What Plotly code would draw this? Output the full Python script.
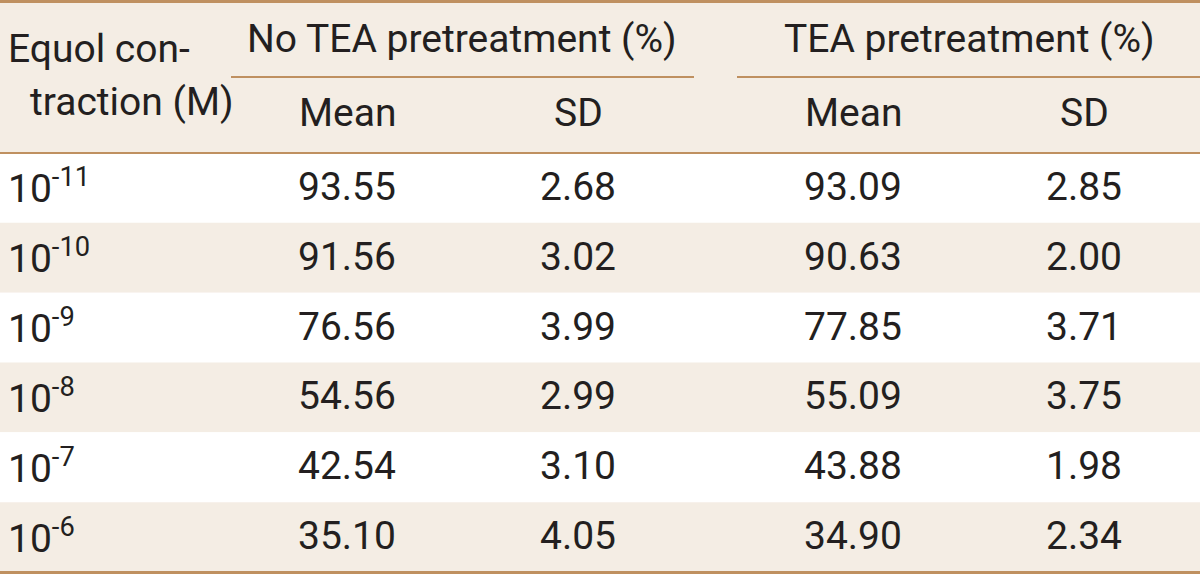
import plotly.graph_objects as go

# ---- data ----
concentrations = ["10<sup>-11</sup>", "10<sup>-10</sup>", "10<sup>-9</sup>",
                  "10<sup>-8</sup>", "10<sup>-7</sup>", "10<sup>-6</sup>"]
no_tea_mean = ["93.55", "91.56", "76.56", "54.56", "42.54", "35.10"]
no_tea_sd = ["2.68", "3.02", "3.99", "2.99", "3.10", "4.05"]
tea_mean = ["93.09", "90.63", "77.85", "55.09", "43.88", "34.90"]
tea_sd = ["2.85", "2.00", "3.71", "3.75", "1.98", "2.34"]
group_headers = ["No TEA pretreatment (%)", "TEA pretreatment (%)"]
sub_headers = ["Mean", "SD", "Mean", "SD"]
first_header = ["Equol con-", "traction (M)"]

# ---- style / layout ----
W, H = 1200, 574
FONT = "Roboto, DejaVu Sans Condensed, sans-serif"
FS = 39
TXT = "#231f20"
BEIGE = "#f4ede4"
LINE = "#bf9060"
header_bottom = 153
row_h = (572 - header_bottom) / 6
col_x = [347, 578, 853, 1084]
sub_x = [347, 578, 853, 1084]
group_x = [462, 969]
group_lines = [(231, 694), (737, 1200)]

fig = go.Figure()
shapes = []
ann = []

# header background
shapes.append(dict(type="rect", xref="x", yref="y", x0=0, x1=W, y0=0, y1=header_bottom,
                   fillcolor=BEIGE, line_width=0, layer="below"))
# row stripes
for i in range(len(concentrations)):
    y0 = header_bottom + i * row_h
    fill = "#ffffff" if i % 2 == 0 else BEIGE
    shapes.append(dict(type="rect", xref="x", yref="y", x0=0, x1=W, y0=y0, y1=y0 + row_h,
                       fillcolor=fill, line_width=0, layer="below"))

# rules
shapes.append(dict(type="line", xref="x", yref="y", x0=0, x1=W, y0=1.5, y1=1.5,
                   line=dict(color=LINE, width=3)))
shapes.append(dict(type="line", xref="x", yref="y", x0=0, x1=W, y0=header_bottom, y1=header_bottom,
                   line=dict(color=LINE, width=2)))
shapes.append(dict(type="line", xref="x", yref="y", x0=0, x1=W, y0=572.5, y1=572.5,
                   line=dict(color=LINE, width=3)))
for (a, b) in group_lines:
    shapes.append(dict(type="line", xref="x", yref="y", x0=a, x1=b, y0=77, y1=77,
                       line=dict(color=LINE, width=2)))

def text(x, y, s, anchor="center"):
    ann.append(dict(x=x, y=y, xref="x", yref="y", text=s, showarrow=False,
                    xanchor=anchor, yanchor="middle",
                    font=dict(family=FONT, size=FS, color=TXT)))

# header text
text(6, 49, first_header[0], "left")
text(28, 102, first_header[1], "left")
for gx, g in zip(group_x, group_headers):
    text(gx, 39, g)
for sx, s in zip(sub_x, sub_headers):
    text(sx, 113, s)

# body
for i, c in enumerate(concentrations):
    yc = header_bottom + (i + 0.5) * row_h - 1
    text(6, yc, c, "left")
    for cx, col in zip(col_x, [no_tea_mean, no_tea_sd, tea_mean, tea_sd]):
        text(cx, yc, col[i])

fig.update_layout(
    width=W, height=H, margin=dict(l=0, r=0, t=0, b=0),
    paper_bgcolor="white", plot_bgcolor="white",
    xaxis=dict(range=[0, W], visible=False, fixedrange=True),
    yaxis=dict(range=[H, 0], visible=False, fixedrange=True),
    shapes=shapes, annotations=ann, showlegend=False,
)
fig.write_html("out.html", config={"displayModeBar": False},
               post_script="document.body.style.margin='0';document.body.style.overflow='hidden';")
